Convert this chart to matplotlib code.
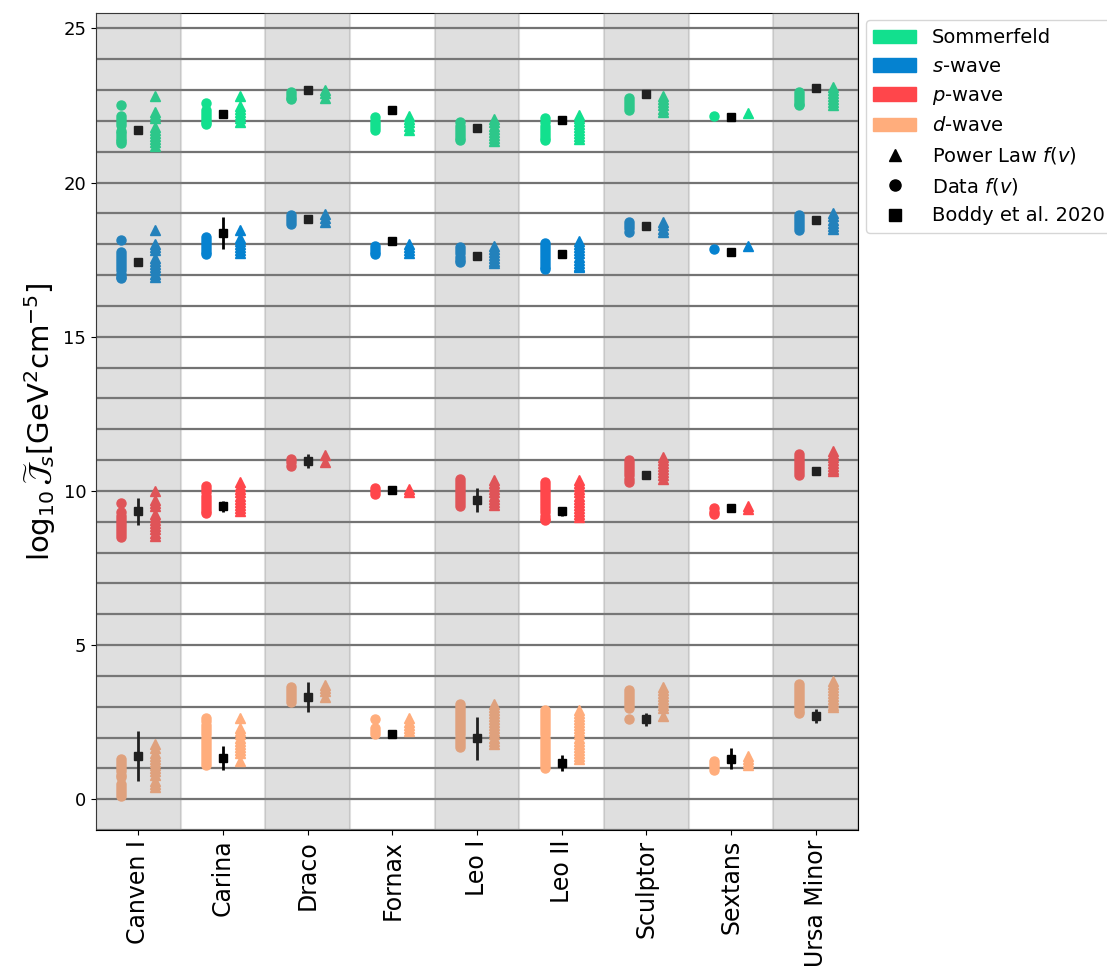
import matplotlib.pyplot as plt
from matplotlib.patches import Patch
from matplotlib.lines import Line2D

galaxies = ['Canven I', 'Carina', 'Draco', 'Fornax', 'Leo I', 'Leo II',
            'Sculptor', 'Sextans', 'Ursa Minor']

# data f(v) (circles), power law f(v) (triangles), Boddy et al. 2020 (squares)
som_data = [[22.5, 22.15, 22.05, 21.95, 21.88, 21.68, 21.6, 21.5, 21.42, 21.35, 21.27],
            [22.58, 22.35, 22.25, 22.15, 22.05, 21.95, 21.9],
            [22.95, 22.85, 22.75, 22.7],
            [22.12, 22.0, 21.9, 21.8, 21.7],
            [21.95, 21.85, 21.75, 21.65, 21.55, 21.45, 21.38],
            [22.08, 21.95, 21.85, 21.75, 21.65, 21.55, 21.45, 21.38],
            [22.75, 22.65, 22.55, 22.45, 22.35],
            [22.15],
            [22.95, 22.85, 22.75, 22.65, 22.55, 22.5]]
som_pl = [[22.8, 22.28, 22.2, 22.1, 21.8, 21.7, 21.6, 21.5, 21.4, 21.3, 21.2],
          [22.8, 22.48, 22.38, 22.28, 22.18, 22.08, 21.98],
          [23.0, 22.92, 22.75],
          [22.15, 22.05, 21.95, 21.85, 21.7],
          [22.05, 21.95, 21.85, 21.75, 21.65, 21.55, 21.45, 21.35],
          [22.2, 22.1, 22.0, 21.9, 21.8, 21.7, 21.6, 21.5, 21.4],
          [22.8, 22.7, 22.6, 22.5, 22.4, 22.3],
          [22.25],
          [23.1, 23.0, 22.9, 22.8, 22.7, 22.6, 22.5]]
som_boddy = [21.69, 22.21, 22.99, 22.36, 21.77, 22.03, 22.86, 22.12, 23.06]
som_err = [0.08, 0.05, 0.05, 0.05, 0.05, 0.05, 0.05, 0.05, 0.05]

s_data = [[18.15, 17.75, 17.65, 17.55, 17.45, 17.35, 17.25, 17.15, 17.05, 16.95, 16.9],
          [18.25, 18.15, 18.05, 17.95, 17.85, 17.75, 17.67],
          [18.95, 18.85, 18.75, 18.65],
          [17.95, 17.85, 17.75, 17.68],
          [17.9, 17.8, 17.7, 17.6, 17.5, 17.42],
          [18.05, 17.95, 17.85, 17.75, 17.65, 17.55, 17.45, 17.35, 17.25, 17.2],
          [18.72, 18.62, 18.52, 18.4],
          [17.85],
          [18.95, 18.85, 18.75, 18.65, 18.55, 18.45]]
s_pl = [[18.45, 18.0, 17.9, 17.8, 17.55, 17.45, 17.35, 17.25, 17.15, 17.05, 16.95],
        [18.45, 18.2, 18.1, 18.0, 17.9, 17.8, 17.72],
        [18.98, 18.85, 18.72],
        [18.0, 17.9, 17.8, 17.7],
        [17.95, 17.85, 17.75, 17.65, 17.55, 17.45, 17.4],
        [18.1, 18.0, 17.9, 17.8, 17.7, 17.6, 17.5, 17.4, 17.3, 17.25],
        [18.72, 18.62, 18.5, 18.4],
        [17.95],
        [19.0, 18.9, 18.8, 18.7, 18.6, 18.5]]
s_boddy = [17.42, 18.37, 18.82, 18.1, 17.62, 17.67, 18.59, 17.75, 18.77]
s_err = [0.08, 0.52, 0.08, 0.05, 0.08, 0.1, 0.05, 0.05, 0.08]

p_data = [[9.62, 9.3, 9.2, 9.1, 9.0, 8.9, 8.8, 8.7, 8.6, 8.5],
          [10.15, 10.05, 9.95, 9.85, 9.75, 9.65, 9.55, 9.45, 9.35, 9.27],
          [11.05, 10.95, 10.8],
          [10.1, 10.0, 9.9],
          [10.4, 10.3, 10.2, 10.1, 10.0, 9.9, 9.8, 9.7, 9.6, 9.5],
          [10.3, 10.2, 10.1, 10.0, 9.9, 9.8, 9.7, 9.6, 9.5, 9.4, 9.3, 9.2, 9.1, 9.05],
          [11.0, 10.9, 10.8, 10.7, 10.6, 10.5, 10.4, 10.3],
          [9.45, 9.3, 9.25],
          [11.2, 11.1, 11.0, 10.9, 10.8, 10.7, 10.6, 10.5]]
p_pl = [[10.0, 9.7, 9.6, 9.5, 9.25, 9.15, 9.05, 8.95, 8.85, 8.75, 8.65, 8.55],
        [10.28, 10.15, 10.05, 9.95, 9.85, 9.75, 9.65, 9.55, 9.45, 9.35],
        [11.15, 10.95],
        [10.05, 9.95],
        [10.35, 10.25, 10.15, 10.05, 9.95, 9.85, 9.75, 9.65, 9.55],
        [10.35, 10.25, 10.15, 10.05, 9.95, 9.85, 9.75, 9.65, 9.55, 9.45, 9.35, 9.25, 9.15],
        [11.1, 11.0, 10.9, 10.8, 10.7, 10.6, 10.5, 10.4],
        [9.5, 9.42],
        [11.3, 11.2, 11.1, 11.0, 10.9, 10.8, 10.7, 10.65]]
p_boddy = [9.34, 9.5, 10.97, 10.02, 9.7, 9.34, 10.5, 9.45, 10.65]
p_err = [0.44, 0.18, 0.24, 0.05, 0.4, 0.15, 0.1, 0.08, 0.1]

d_data = [[1.3, 1.2, 1.1, 1.0, 0.9, 0.8, 0.72, 0.5, 0.4, 0.3, 0.2, 0.1],
          [2.65, 2.55, 2.4, 2.3, 2.2, 2.1, 2.0, 1.9, 1.8, 1.7, 1.6, 1.5, 1.4, 1.3, 1.2, 1.1],
          [3.65, 3.55, 3.45, 3.35, 3.25, 3.15],
          [2.6, 2.3, 2.2, 2.1],
          [3.1, 3.0, 2.9, 2.8, 2.7, 2.6, 2.5, 2.4, 2.3, 2.2, 2.1, 2.0, 1.9, 1.8, 1.7],
          [2.9, 2.8, 2.7, 2.6, 2.5, 2.4, 2.3, 2.2, 2.1, 2.0, 1.9, 1.8, 1.7, 1.6,
           1.5, 1.4, 1.3, 1.2, 1.1, 1.0],
          [3.55, 3.45, 3.35, 3.25, 3.15, 3.05, 2.95, 2.6],
          [1.25, 1.15, 1.05, 0.95],
          [3.75, 3.65, 3.55, 3.45, 3.35, 3.25, 3.15, 3.05, 2.95, 2.85, 2.8]]
d_pl = [[1.8, 1.65, 1.5, 1.4, 1.3, 1.2, 1.1, 1.0, 0.9, 0.8, 0.6, 0.5, 0.4],
        [2.65, 2.3, 2.2, 2.1, 2.0, 1.9, 1.8, 1.7, 1.6, 1.5, 1.25],
        [3.7, 3.6, 3.5, 3.3],
        [2.65, 2.5, 2.4, 2.3, 2.2],
        [3.1, 3.0, 2.9, 2.8, 2.7, 2.6, 2.5, 2.4, 2.3, 2.2, 2.1, 2.0, 1.9, 1.8],
        [2.9, 2.8, 2.7, 2.6, 2.5, 2.4, 2.3, 2.2, 2.1, 2.0, 1.9, 1.8, 1.7, 1.6,
         1.5, 1.4, 1.3],
        [3.65, 3.55, 3.45, 3.35, 3.25, 3.15, 3.05, 2.95, 2.7],
        [1.4, 1.3, 1.2, 1.1],
        [3.85, 3.75, 3.65, 3.55, 3.45, 3.35, 3.25, 3.15, 3.05, 3.0]]
d_boddy = [1.4, 1.34, 3.32, 2.13, 1.97, 1.18, 2.59, 1.32, 2.7]
d_err = [0.81, 0.38, 0.49, 0.05, 0.7, 0.25, 0.2, 0.33, 0.22]

waves = ['Sommerfeld', '$s$-wave', '$p$-wave', '$d$-wave']
colors = ['#12e08e', '#0582d0', '#ff464b', '#ffad7c']
all_data = [som_data, s_data, p_data, d_data]
all_pl = [som_pl, s_pl, p_pl, d_pl]
all_boddy = [som_boddy, s_boddy, p_boddy, d_boddy]
all_err = [som_err, s_err, p_err, d_err]

fig = plt.figure(figsize=(11.07, 9.69), dpi=100)
ax = fig.add_axes([0.0867, 0.1434, 0.6884, 0.8432])

for k in range(-1, 26):
    ax.axhline(k, color='#444444', lw=1.6, alpha=0.75, zorder=1)

off = 0.2
for w in range(4):
    for i in range(len(galaxies)):
        ax.plot([i - off] * len(all_data[w][i]), all_data[w][i], 'o',
                color=colors[w], ms=6.5, zorder=2)
        ax.plot([i + off] * len(all_pl[w][i]), all_pl[w][i], '^',
                color=colors[w], ms=6.5, zorder=2)
    ax.errorbar(range(len(galaxies)), all_boddy[w], yerr=all_err[w], fmt='s',
                color='k', ms=6, elinewidth=2, capsize=0, zorder=2)

for i in range(0, len(galaxies), 2):
    ax.axvspan(i - 0.5, i + 0.5, facecolor='grey', edgecolor='grey',
               alpha=0.25, lw=1.5, zorder=3)

ax.set_xlim(-0.5, 8.5)
ax.set_ylim(-1, 25.5)
ax.set_xticks(range(len(galaxies)))
ax.set_xticklabels(galaxies, rotation=90, fontsize=17)
ax.set_yticks([0, 5, 10, 15, 20, 25])
ax.tick_params(axis='y', labelsize=13)
ax.set_ylabel(r'$\log_{10}\widetilde{\mathcal{J}}_s$[GeV$^2$cm$^{-5}$]',
              fontsize=21)

handles = [Patch(color=c, label=l) for c, l in zip(colors, waves)]
handles += [Line2D([], [], marker='^', ls='', color='k', ms=8, label='Power Law $f(v)$'),
            Line2D([], [], marker='o', ls='', color='k', ms=8, label='Data $f(v)$'),
            Line2D([], [], marker='s', ls='', color='k', ms=8, label='Boddy et al. 2020')]
fig.legend(handles=handles, loc='upper left', bbox_to_anchor=(0.782, 0.979),
           fontsize=14, handlelength=2.2, borderaxespad=0)

fig.savefig('out.png', dpi=100)
